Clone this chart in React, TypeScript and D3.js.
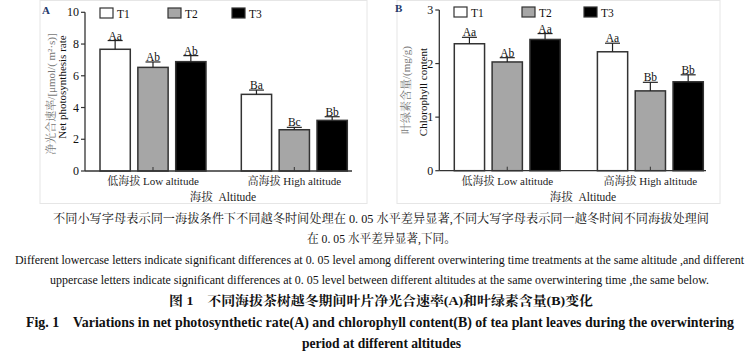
import React from "react";
import * as d3 from "d3";

const treatments = ["T1", "T2", "T3"];
const altitudes = ["低海拔 Low altitude", "高海拔 High altitude"];

// Panel A: net photosynthetic rate
const rateLow = [7.67, 6.53, 6.89];
const rateHigh = [4.83, 2.6, 3.19];
const rateLowErr = [0.55, 0.34, 0.38];
const rateHighErr = [0.27, 0.15, 0.23];
const rateLowSig = ["Aa", "Ab", "Ab"];
const rateHighSig = ["Ba", "Bc", "Bb"];
const rateTicks = [0, 2, 4, 6, 8, 10];

// Panel B: chlorophyll content
const chlLow = [2.37, 2.03, 2.45];
const chlHigh = [2.22, 1.49, 1.66];
const chlLowErr = [0.12, 0.08, 0.11];
const chlHighErr = [0.16, 0.16, 0.13];
const chlLowSig = ["Aa", "Ab", "Aa"];
const chlHighSig = ["Aa", "Bb", "Bb"];
const chlTicks = [0, 1, 2, 3];

const fills = ["#ffffff", "#a6a6a6", "#000000"];
const SERIF = "'Liberation Serif','Times New Roman','Noto Serif CJK SC','Noto Sans CJK SC',serif";

type PanelCfg = {
  tag: string;
  tagX: number;
  tagY: number;
  frame: [number, number];
  axisX: number;
  xEnd: number;
  y0: number;
  y1: number;
  domain: [number, number];
  ticks: number[];
  barRange: [number, number];
  padG: number;
  means: number[][];
  errs: number[][];
  sig: string[][];
  legendX: number[];
  legendY: number;
  ylabCn: string;
  ylabCnX: number;
  ylabCnY: number;
  ylabEn: string;
  ylabEnX: number;
  ylabEnY: number;
  xTitleX: number;
};

function Panel({ p }: { p: PanelCfg }) {
  const y = d3.scaleLinear().domain(p.domain).range([p.y0, p.y1]);
  const x0 = d3.scaleBand<string>().domain(altitudes).range(p.barRange).paddingInner(p.padG);
  const x1 = d3.scaleBand<string>().domain(treatments).range([0, x0.bandwidth()]).paddingInner(0.2);
  const data = altitudes.flatMap((g, gi) =>
    treatments.map((t, ti) => ({ g, t, ti, v: p.means[gi][ti], e: p.errs[gi][ti], s: p.sig[gi][ti] }))
  );
  const base = y(0);
  return (
    <g fontFamily={SERIF}>
      <rect x={p.frame[0]} y={0.5} width={p.frame[1] - p.frame[0]} height={203} fill="none" stroke="#e6e6e6" strokeWidth={1} />
      <text x={p.tagX} y={p.tagY} fontSize={11} fontWeight="bold" fill="#24386b">{p.tag}</text>
      {/* legend */}
      {treatments.map((t, i) => (
        <g key={t}>
          <rect x={p.legendX[i]} y={p.legendY} width={13} height={10} fill={fills[i]} stroke="#333" strokeWidth={1.2} />
          <text x={p.legendX[i] + 17} y={p.legendY + 10} fontSize={11.5} fill="#111">{t}</text>
        </g>
      ))}
      {/* bars */}
      {data.map((d) => {
        const bx = (x0(d.g) as number) + (x1(d.t) as number);
        const bw = x1.bandwidth();
        const cx = bx + bw / 2;
        const top = y(d.v);
        const et = y(d.v + d.e);
        return (
          <g key={d.g + d.t}>
            <rect x={bx} y={top} width={bw} height={base - top} fill={fills[d.ti]} stroke="#333" strokeWidth={1.5} />
            <line x1={cx} x2={cx} y1={top} y2={et} stroke="#222" strokeWidth={1.2} />
            <line x1={cx - 7.5} x2={cx + 7.5} y1={et} y2={et} stroke="#222" strokeWidth={1.2} />
            <text x={cx} y={et - 1} textAnchor="middle" fontSize={11.5} fill="#111">{d.s}</text>
          </g>
        );
      })}
      {/* category ticks */}
      {altitudes.map((g) => {
        const cx = (x0(g) as number) + x0.bandwidth() / 2;
        return <line key={g} x1={cx} x2={cx} y1={base} y2={base - 4} stroke="#333" strokeWidth={1} />;
      })}
      {/* axes */}
      <line x1={p.axisX} x2={p.axisX} y1={y(p.domain[1])} y2={base} stroke="#333" strokeWidth={1.3} />
      <line x1={p.axisX} x2={p.xEnd} y1={base} y2={base} stroke="#333" strokeWidth={1.3} />
      {p.ticks.map((t) => (
        <g key={t}>
          <line x1={p.axisX - 4} x2={p.axisX} y1={y(t)} y2={y(t)} stroke="#333" strokeWidth={1.2} />
          <text x={p.axisX - 6} y={y(t) + 4} textAnchor="end" fontSize={12} fill="#111">{t}</text>
        </g>
      ))}
      {altitudes.map((g) => (
        <text key={g} x={(x0(g) as number) + x0.bandwidth() / 2} y={185} textAnchor="middle" fontSize={11} fill="#222">{g}</text>
      ))}
      <text x={p.xTitleX} y={201} textAnchor="middle" fontSize={11.5} fill="#222">海拔&#160; Altitude</text>
      <text transform={`translate(${p.ylabCnX},${p.ylabCnY}) rotate(-90)`} textAnchor="middle" fontSize={11} fill="#777">{p.ylabCn}</text>
      <text transform={`translate(${p.ylabEnX},${p.ylabEnY}) rotate(-90)`} textAnchor="middle" fontSize={11} fill="#111">{p.ylabEn}</text>
    </g>
  );
}

const panelA: PanelCfg = {
  tag: "A", tagX: 42, tagY: 14, frame: [40, 367],
  axisX: 85, xEnd: 352, y0: 171, y1: 12.3, domain: [0, 10], ticks: rateTicks,
  barRange: [100, 347.3], padG: 0.25,
  means: [rateLow, rateHigh], errs: [rateLowErr, rateHighErr], sig: [rateLowSig, rateHighSig],
  legendX: [100, 168, 232], legendY: 8,
  ylabCn: "净光合速率/[μmol/( m²·s)]", ylabCnX: 54.5, ylabCnY: 94,
  ylabEn: "Net photosynthesis rate", ylabEnX: 65.5, ylabEnY: 87,
  xTitleX: 223,
};

const panelB: PanelCfg = {
  tag: "B", tagX: 395, tagY: 12, frame: [397, 720],
  axisX: 439.3, xEnd: 706, y0: 170.7, y1: 10, domain: [0, 3], ticks: chlTicks,
  barRange: [454.3, 703.3], padG: 0.26,
  means: [chlLow, chlHigh], errs: [chlLowErr, chlHighErr], sig: [chlLowSig, chlHighSig],
  legendX: [454, 522, 584], legendY: 7,
  ylabCn: "叶绿素含量/(mg/g)", ylabCnX: 409.5, ylabCnY: 90,
  ylabEn: "Chlorophyll content", ylabEnX: 427, ylabEnY: 92,
  xTitleX: 583,
};

const captions = [
  { t: "不同小写字母表示同一海拔条件下不同越冬时间处理在 0. 05 水平差异显著,不同大写字母表示同一越冬时间不同海拔处理间", x0: 53, x1: 709, y: 223, fs: 12, bold: false },
  { t: "在 0. 05 水平差异显著,下同。", x0: 307, x1: 456, y: 243, fs: 12, bold: false },
  { t: "Different lowercase letters indicate significant differences at 0. 05 level among different overwintering time treatments at the same altitude ,and different", x0: 15, x1: 744, y: 264, fs: 12, bold: false },
  { t: "uppercase letters indicate significant differences at 0. 05 level between different altitudes at the same overwintering time ,the same below.", x0: 50, x1: 709, y: 284, fs: 12, bold: false },
  { t: "图 1　不同海拔茶树越冬期间叶片净光合速率(A)和叶绿素含量(B)变化", x0: 169, x1: 593, y: 305, fs: 13, bold: true },
  { t: "Fig. 1　Variations in net photosynthetic rate(A) and chlorophyll content(B) of tea plant leaves during the overwintering", x0: 26, x1: 734, y: 327, fs: 14, bold: true },
  { t: "period at different altitudes", x0: 302, x1: 461, y: 348, fs: 14, bold: true },
];

export default function App() {
  return (
    <svg width={751} height={357} style={{ position: "absolute", left: 0, top: 0, background: "#fff" }}>
      <rect x={0} y={0} width={751} height={357} fill="#fff" />
      <Panel p={panelA} />
      <Panel p={panelB} />
      {captions.map((c, i) => (
        <text
          key={i}
          x={c.x0}
          y={c.y}
          fontFamily={SERIF}
          fontSize={c.fs}
          fontWeight={c.bold ? "bold" : "normal"}
          textLength={c.x1 - c.x0}
          lengthAdjust="spacingAndGlyphs"
          fill="#111"
        >
          {c.t}
        </text>
      ))}
    </svg>
  );
}
